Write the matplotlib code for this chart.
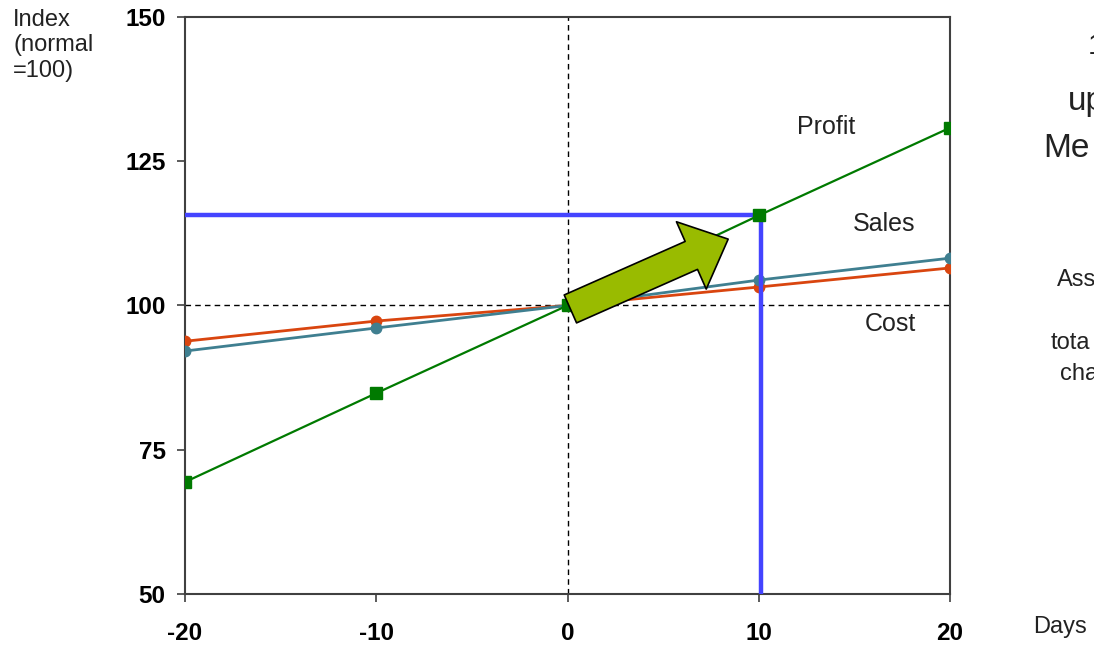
import matplotlib.pyplot as plt
from matplotlib.patches import FancyArrowPatch

plt.rcParams['font.family'] = ['Liberation Sans', 'DejaVu Sans']
plt.rcParams['axes.unicode_minus'] = False

# Index (normal = 100) against days from the reference date
days = [-20, -10, 0, 10, 20]
profit = [69.4, 84.8, 100.0, 115.6, 130.8]
sales = [92.1, 96.1, 100.0, 104.4, 108.2]
cost = [93.8, 97.3, 100.0, 103.2, 106.5]

marked_day = 10.1
marked_index = 115.6

x_ticks = [-20, -10, 0, 10, 20]
y_ticks = [50, 75, 100, 125, 150]

fig = plt.figure(figsize=(10.94, 6.45), dpi=100)
ax = fig.add_axes([0.1691, 0.0791, 0.6993, 0.8946])

ax.set_xlim(-20, 20)
ax.set_ylim(50, 150)

# reference cross at day 0 / index 100
ax.axvline(0, color='black', lw=1, ls=(0, (4, 3)), zorder=1)
ax.axhline(100, color='black', lw=1, ls=(0, (4, 3)), zorder=1)

ax.plot(days, cost, color='#D9450F', lw=2, marker='o', ms=7.5, zorder=3)
ax.plot(days, sales, color='#3F7F90', lw=2, marker='o', ms=7.5, zorder=3)

# blue guide lines to the marked point
ax.plot([-20, marked_day, marked_day], [marked_index, marked_index, 50],
        color='#4444FF', lw=3.2, solid_capstyle='butt', zorder=4, clip_on=False)

ax.plot(days, profit, color='#007A00', lw=1.6, marker='s', ms=8.5, zorder=5)

arrow = FancyArrowPatch((0.15, 99.4), (8.4, 111.5),
                        arrowstyle='simple,head_length=2.9,head_width=5.3,tail_width=2.2',
                        mutation_scale=10, shrinkA=0, shrinkB=0,
                        facecolor='#99BB00', edgecolor='black', lw=1.2, zorder=6)
ax.add_patch(arrow)

ax.text(13.5, 130.9, 'Profit', fontsize=18, ha='center', va='center', color='#222222')
ax.text(16.55, 114.1, 'Sales', fontsize=18, ha='center', va='center', color='#222222')
ax.text(16.9, 96.8, 'Cost', fontsize=18, ha='center', va='center', color='#222222')

ax.set_xticks(x_ticks)
ax.set_yticks(y_ticks)
ax.tick_params(direction='out', length=6, width=1.2, color='#404040', labelsize=17.5)
ax.tick_params(axis='x', pad=14)
ax.tick_params(axis='y', pad=8)
for lab in ax.get_xticklabels() + ax.get_yticklabels():
    lab.set_fontweight('bold')
for sp in ax.spines.values():
    sp.set_color('#404040')
    sp.set_linewidth(1.5)

fig.text(0.012, 0.986, 'Index\n(normal\n=100)', fontsize=17, ha='left', va='top',
         linespacing=1.2, color='#222222')
fig.text(0.944, 0.028, 'Days', fontsize=17, ha='left', va='center', color='#222222')

# slide text running off the right edge
fig.text(0.994, 0.928, '1', fontsize=21, ha='left', va='center', color='#222222')
fig.text(0.976, 0.843, 'up', fontsize=24, ha='left', va='center', color='#222222')
fig.text(0.954, 0.77, 'Me', fontsize=24, ha='left', va='center', color='#222222')
fig.text(0.966, 0.566, 'Ass', fontsize=17, ha='left', va='center', color='#222222')
fig.text(0.96, 0.468, 'tota', fontsize=17, ha='left', va='center', color='#222222')
fig.text(0.969, 0.42, 'cha', fontsize=17, ha='left', va='center', color='#222222')

fig.savefig('out.png', dpi=100)
